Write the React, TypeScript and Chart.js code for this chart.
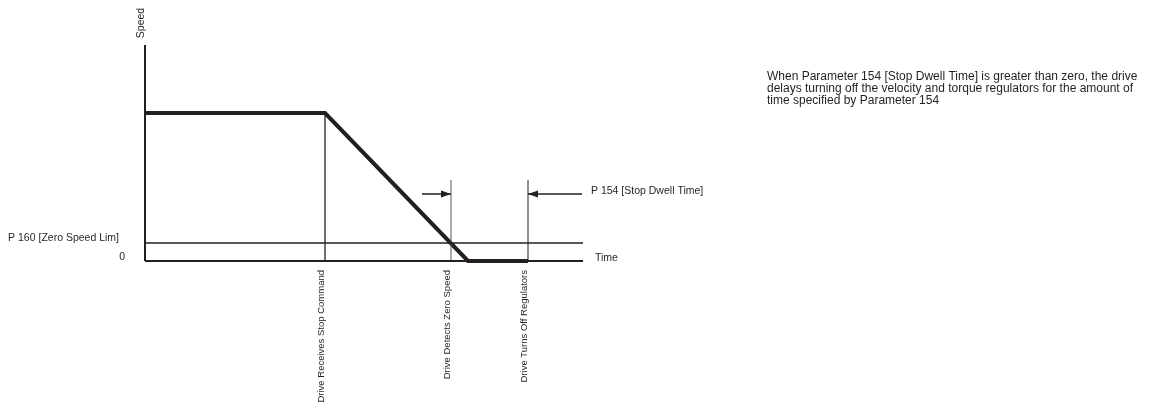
import React, { useEffect, useRef } from "react";
import { Chart, registerables } from "chart.js";

Chart.register(...registerables);

const CANVAS_W = 1152;
const CANVAS_H = 417;

// speed profile (time units, speed %)
const profileTimes = [0, 18, 32.3, 38.3];
const profileSpeeds = [100, 100, 0, 0];
const zeroSpeedLim = 12.2;
const timeAxisEnd = 43.8;
const speedAxisTop = 146;

// event markers
const eventTimes = [18, 30.6, 38.3];
const eventLineTops = [100, 54.7, 54.7];
const eventLabels = [
  "Drive Receives Stop Command",
  "Drive Detects Zero Speed",
  "Drive Turns Off Regulators",
];

// dwell arrows
const arrowLevel = 45.3;
const arrowStarts = [27.7, 43.7];
const arrowEnds = [30.6, 38.3];

// texts
const yTitle = "Speed";
const xTitle = "Time";
const zeroLabel = "0";
const zeroLimLabel = "P 160 [Zero Speed Lim]";
const dwellLabel = "P 154 [Stop Dwell Time]";
const noteLines = [
  "When Parameter 154 [Stop Dwell Time] is greater than zero, the drive",
  "delays turning off the velocity and torque regulators for the amount of",
  "time specified by Parameter 154",
];

const INK = "#231f20";
const FONT = '"Liberation Sans", Arial, Helvetica, sans-serif';

const annotationPlugin = {
  id: "annotations",
  afterDatasetsDraw(chart: any) {
    const { ctx, scales } = chart;
    const xs = scales.x;
    const ys = scales.y;
    const px = (v: number) => xs.getPixelForValue(v);
    const py = (v: number) => ys.getPixelForValue(v);
    ctx.save();
    ctx.fillStyle = INK;

    // arrowheads
    arrowStarts.forEach((s, i) => {
      const e = arrowEnds[i];
      const tipX = px(e);
      const y = py(arrowLevel);
      const dir = e > s ? 1 : -1;
      ctx.beginPath();
      ctx.moveTo(tipX, y);
      ctx.lineTo(tipX - dir * 10, y - 3.5);
      ctx.lineTo(tipX - dir * 10, y + 3.5);
      ctx.closePath();
      ctx.fill();
    });

    const axisX = px(0);
    const zeroY = py(0);

    // y title
    ctx.font = `10.5px ${FONT}`;
    ctx.save();
    ctx.translate(axisX - 4, py(speedAxisTop) - 22);
    ctx.rotate(-Math.PI / 2);
    ctx.textAlign = "center";
    ctx.textBaseline = "middle";
    ctx.fillText(yTitle, 0, 0);
    ctx.restore();

    // left labels
    ctx.textAlign = "right";
    ctx.textBaseline = "middle";
    ctx.fillText(zeroLimLabel, axisX - 26, py(zeroSpeedLim) - 5);
    ctx.fillText(zeroLabel, axisX - 20, zeroY - 4);

    // time label
    ctx.textAlign = "left";
    ctx.fillText(xTitle, px(timeAxisEnd) + 12, zeroY - 3);

    // dwell label
    ctx.fillText(dwellLabel, px(arrowStarts[1]) + 9, py(arrowLevel) - 3);

    // event labels
    ctx.font = `9.5px ${FONT}`;
    eventTimes.forEach((t, i) => {
      ctx.save();
      ctx.translate(px(t) - 4, zeroY + 9);
      ctx.rotate(-Math.PI / 2);
      ctx.textAlign = "right";
      ctx.textBaseline = "middle";
      ctx.fillText(eventLabels[i], 0, 0);
      ctx.restore();
    });

    // note paragraph
    ctx.font = `12px ${FONT}`;
    ctx.textAlign = "left";
    ctx.textBaseline = "alphabetic";
    noteLines.forEach((line, i) => {
      ctx.fillText(line, 767, 80 + i * 12);
    });

    ctx.restore();
  },
};

export default function App() {
  const canvasRef = useRef<HTMLCanvasElement | null>(null);

  useEffect(() => {
    document.body.style.margin = "0";
    const canvas = canvasRef.current;
    if (!canvas) return;

    const line = (pts: { x: number; y: number }[], width: number, color = INK) => ({
      data: pts,
      borderColor: color,
      borderWidth: width,
      pointRadius: 0,
      fill: false,
      tension: 0,
      clip: false,
      borderCapStyle: "butt",
      borderJoinStyle: "miter",
    });

    const datasets: any[] = [
      line([{ x: 0, y: 0 }, { x: 0, y: speedAxisTop }], 2),
      line([{ x: 0, y: 0 }, { x: timeAxisEnd, y: 0 }], 2),
      line([{ x: 0, y: zeroSpeedLim }, { x: timeAxisEnd, y: zeroSpeedLim }], 1.5),
      ...eventTimes.map((t, i) =>
        line([{ x: t, y: 0 }, { x: t, y: eventLineTops[i] }], i === 0 ? 1.3 : 1, i === 1 ? "#555" : INK)
      ),
      ...arrowStarts.map((s, i) =>
        line([{ x: s, y: arrowLevel }, { x: arrowEnds[i], y: arrowLevel }], 1.5)
      ),
      line(profileTimes.map((t, i) => ({ x: t, y: profileSpeeds[i] })), 4),
    ];

    const chart = new Chart(canvas, {
      type: "line",
      data: { datasets },
      options: {
        animation: false,
        responsive: false,
        devicePixelRatio: 1,
        layout: { padding: { left: 145, right: CANVAS_W - 583, top: 45, bottom: CANVAS_H - 261 } },
        plugins: { legend: { display: false }, tooltip: { enabled: false } },
        scales: {
          x: { type: "linear", min: 0, max: timeAxisEnd, display: false },
          y: { type: "linear", min: 0, max: speedAxisTop, display: false },
        },
      },
      plugins: [annotationPlugin],
    });
    return () => chart.destroy();
  }, []);

  return (
    <div style={{ width: CANVAS_W, height: CANVAS_H, background: "#fff" }}>
      <canvas ref={canvasRef} width={CANVAS_W} height={CANVAS_H} />
    </div>
  );
}
